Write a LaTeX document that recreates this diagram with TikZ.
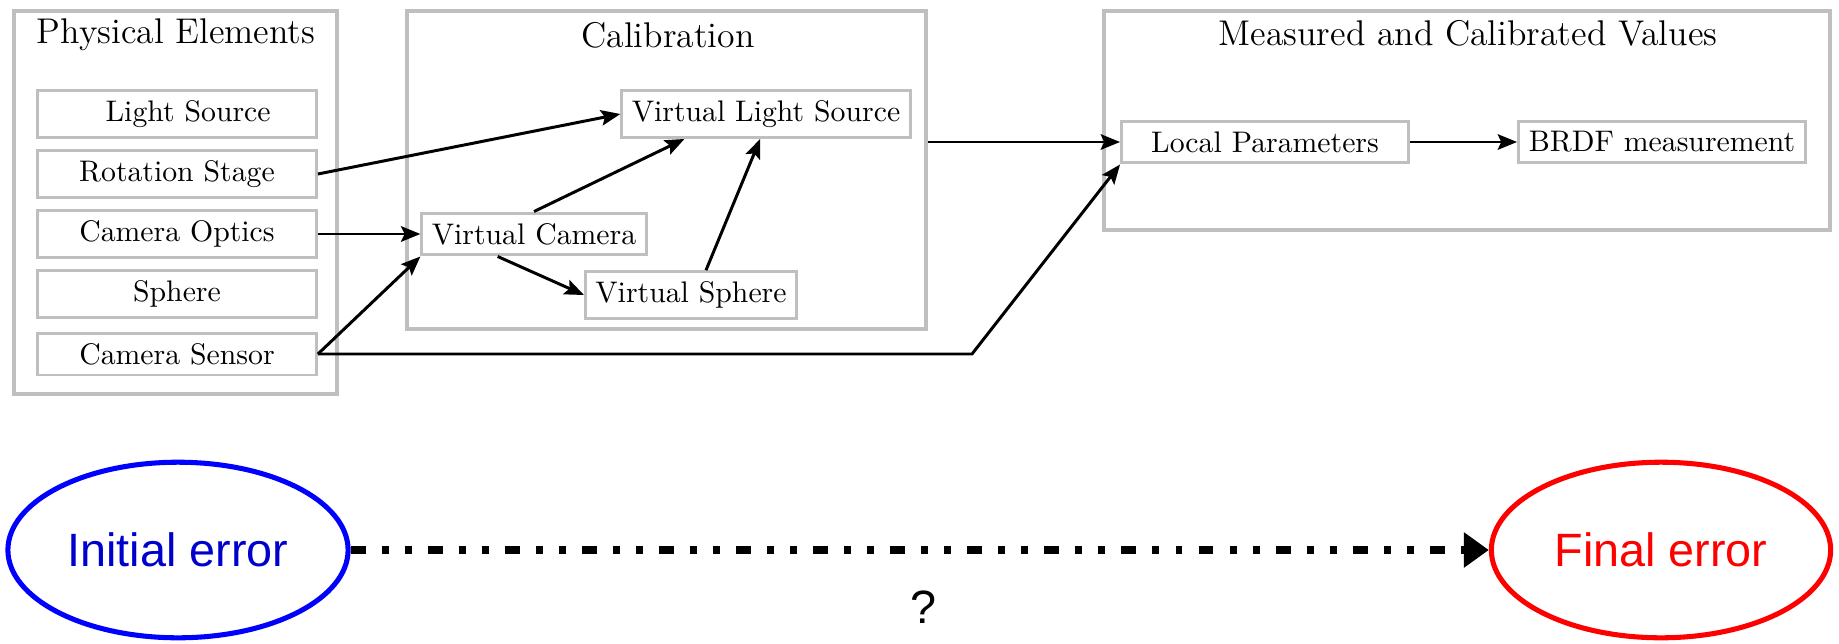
\documentclass[tikz,border=0pt]{standalone}
\usepackage{fontspec}
\usepackage{tikz}
\usetikzlibrary{arrows.meta,shapes.geometric,calc}
\newfontfamily\errfont{Liberation Sans}
\definecolor{boxgray}{rgb}{0.75,0.75,0.75}
\definecolor{errblue}{rgb}{0,0,0.8}

\begin{document}
\begin{tikzpicture}[x=0.336pt, y=-0.336pt, frame/.style = {shape=rectangle, draw=boxgray, line width=1.2pt, inner sep=0pt}, box/.style = {shape=rectangle, draw=boxgray, line width=1pt, align=center, fill=white, minimum height=14.1pt}, elem/.style = {box, minimum width=93.7pt}, result/.style = {box, minimum width=96.4pt}, title/.style = {font=\large}, link/.style = {-{Stealth[length=6.5pt, width=5.2pt, inset=1.2pt]}, line width=1pt}, err/.style = {shape=ellipse, line width=1.7pt, minimum width=114pt, minimum height=59pt, font=\errfont\fontsize{15.7}{19}\selectfont}]
	\useasboundingbox (0,0) rectangle (1839,643);

	% physical elements
	\node[frame, minimum width=108.5pt, minimum height=128.7pt] (phys) at (175.5,202.5) {};
	\node[title] (physt) at (176,35) {Physical Elements};
	\node[elem] (light) at (177,114) {\hspace*{7.5pt}Light Source};
	\node[elem] (rot) at (177,174) {Rotation Stage};
	\node[elem] (optics) at (177,234) {Camera Optics};
	\node[elem] (sph) at (177,294) {Sphere};
	\node[elem] (sens) at (177,354) {Camera Sensor};

	% calibration
	\node[frame, minimum width=174.4pt, minimum height=106.8pt] (calib) at (666.5,170) {};
	\node[title] (calibt) at (668,35) {Calibration};
	\node[box] (vls) at (766,114) {Virtual Light Source};
	\node[box] (vcam) at (534,234) {Virtual Camera};
	\node[box] (vsph) at (691,295) {Virtual Sphere};

	% measured values
	\node[frame, minimum width=243.9pt, minimum height=73.6pt] (meas) at (1467,120.5) {};
	\node[title] (meast) at (1468,33) {Measured and Calibrated Values};
	\node[result] (lp) at (1265,142) {Local Parameters};
	\node[result] (brdf) at (1662,142) {BRDF measurement};

	\coordinate (bend) at (972,352);
	\draw[link] (rot.east) -- (vls.west);
	\draw[link] (optics.east) -- (vcam.west);
	\draw[link] (sens.east) -- (vcam.south west);
	\draw[link] (sens.east) -- (sens.east -| bend) -- (lp.south west);
	\draw[link] (vcam.north) -- ($(vls.south west)!0.22!(vls.south east)$);
	\draw[link] ($(vcam.south west)!0.34!(vcam.south east)$) -- (vsph.west);
	\draw[link] ($(vsph.north west)!0.57!(vsph.north east)$) -- ($(vls.south west)!0.48!(vls.south east)$);
	\draw[link] (lp.west -| calib.east) -- (lp.west);
	\draw[link] (lp.east) -- (brdf.west);

	% errors
	\node[err, draw=blue, text=errblue] (init) at (178,550) {Initial error};
	\node[err, draw=red, text=red] (final) at (1661,550) {Final error};
	\node[font=\errfont\fontsize{15.7}{19}\selectfont] (q) at (923,607) {?};
	\draw[line width=2.7pt, dash pattern=on 5pt off 5.4pt on 2.35pt off 5.4pt on 2.35pt off 5.4pt, -{Triangle[length=8.4pt, width=11.4pt]}] (init.east) -- (final.west);
\end{tikzpicture}
\end{document}
